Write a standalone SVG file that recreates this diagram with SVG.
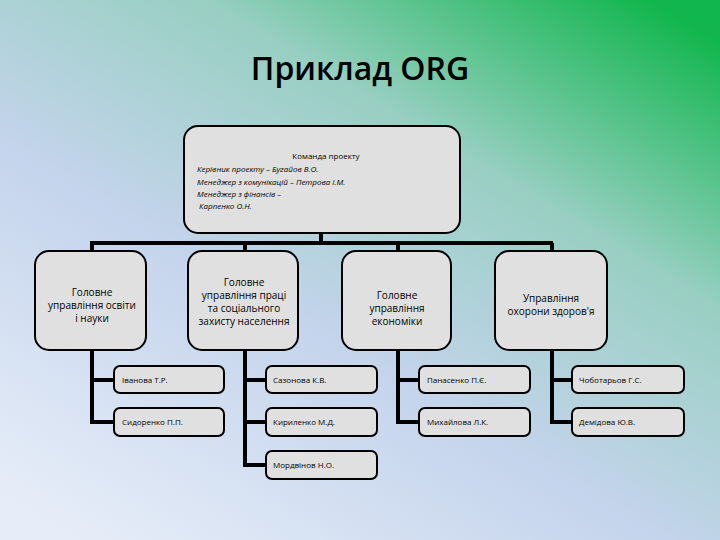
<svg xmlns="http://www.w3.org/2000/svg" width="720" height="540" viewBox="0 0 720 540">
<defs>
<linearGradient id="bg" x1="0.1" y1="1" x2="0.9" y2="0">
<stop offset="0" stop-color="#e6edf8"/>
<stop offset="0.4" stop-color="#c4d4ec"/>
<stop offset="0.7" stop-color="#98cfc2"/>
<stop offset="1" stop-color="#12b64e"/>
</linearGradient>
<style>
.b{fill:#e0e0e0;stroke:#000;stroke-width:2}
.t{font-family:"Open Sans","DejaVu Sans",sans-serif;font-size:10px;fill:#000}
.s{font-family:"Open Sans","DejaVu Sans",sans-serif;font-size:8px;fill:#000}
.c{fill:none;stroke:#000;stroke-width:4}
</style>
</defs>
<rect width="720" height="540" fill="url(#bg)"/>
<text x="360" y="80" text-anchor="middle" font-family="'Open Sans','DejaVu Sans',sans-serif" font-size="32" font-weight="600" fill="#000">Приклад ORG</text>
<g id="connectors">
<path class="c" d="M321 233V243M90 243H553M92 243V251M245 243V251M398 243V251M552 243V251"/>
<path class="c" d="M92 350V422H114M92 380H114"/>
<path class="c" d="M245 350V465H266M245 380H266M245 422H266"/>
<path class="c" d="M398 350V422H419M398 380H419"/>
<path class="c" d="M552 350V422H572M552 380H572"/>
</g>
<g id="top">
<rect class="b" x="184" y="126" width="276" height="107" rx="14"/>
<text class="s" x="326" y="159" font-size="9" text-anchor="middle">Команда проекту</text>
<text class="s" x="197" y="172" font-size="9" font-style="italic">Керівник проекту – Бугайов В.О.</text>
<text class="s" x="197" y="185" font-size="9" font-style="italic">Менеджер з комунікацій – Петрова І.М.</text>
<text class="s" x="197" y="197" font-size="9" font-style="italic">Менеджер з фінансів –</text>
<text class="s" x="199" y="209" font-size="9" font-style="italic">Карпенко О.Н.</text>
</g>
<g id="d1"><rect class="b" x="35" y="251" width="111" height="99" rx="14"/>
<text class="t" text-anchor="middle"><tspan x="92" y="296">Головне</tspan><tspan x="92" y="309">управління освіти</tspan><tspan x="92" y="322">і науки</tspan></text></g>
<g id="d2"><rect class="b" x="188" y="251" width="110" height="99" rx="14"/>
<text class="t" text-anchor="middle"><tspan x="244" y="286">Головне</tspan><tspan x="244" y="299">управління праці</tspan><tspan x="244" y="312">та соціального</tspan><tspan x="244" y="325">захисту населення</tspan></text></g>
<g id="d3"><rect class="b" x="342" y="251" width="109" height="99" rx="14"/>
<text class="t" text-anchor="middle"><tspan x="397" y="299">Головне</tspan><tspan x="397" y="312">управління</tspan><tspan x="397" y="325">економіки</tspan></text></g>
<g id="d4"><rect class="b" x="495" y="251" width="112" height="99" rx="14"/>
<text class="t" text-anchor="middle"><tspan x="551" y="302">Управління</tspan><tspan x="551" y="315">охорони здоров'я</tspan></text></g>
<g id="p1"><rect class="b" x="114" y="366" width="110" height="27" rx="6"/><text class="s" x="122" y="383">Іванова Т.Р.</text></g>
<g id="p2"><rect class="b" x="114" y="408" width="110" height="28" rx="6"/><text class="s" x="122" y="425">Сидоренко П.П.</text></g>
<g id="p3"><rect class="b" x="266" y="366" width="111" height="27" rx="6"/><text class="s" x="273" y="383">Сазонова К.В.</text></g>
<g id="p4"><rect class="b" x="266" y="408" width="111" height="28" rx="6"/><text class="s" x="273" y="425">Кириленко М.Д.</text></g>
<g id="p5"><rect class="b" x="266" y="451" width="111" height="28" rx="6"/><text class="s" x="273" y="468">Мордвінов Н.О.</text></g>
<g id="p6"><rect class="b" x="419" y="366" width="111" height="27" rx="6"/><text class="s" x="427" y="383">Панасенко П.Є.</text></g>
<g id="p7"><rect class="b" x="419" y="408" width="111" height="28" rx="6"/><text class="s" x="427" y="425">Михайлова Л.К.</text></g>
<g id="p8"><rect class="b" x="572" y="366" width="112" height="27" rx="6"/><text class="s" x="579" y="383">Чоботарьов Г.С.</text></g>
<g id="p9"><rect class="b" x="572" y="408" width="112" height="28" rx="6"/><text class="s" x="579" y="425">Демідова Ю.В.</text></g>
</svg>
